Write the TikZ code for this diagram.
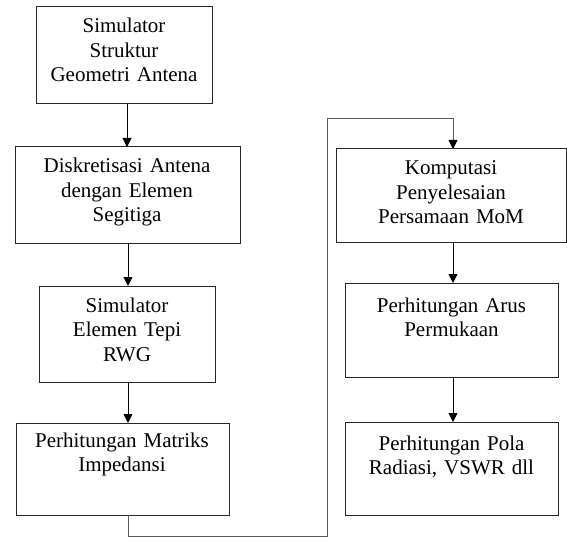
\documentclass[tikz,border=0pt]{standalone}
\usepackage{fontspec}
\setmainfont{Liberation Serif}
\usetikzlibrary{arrows.meta}
\begin{document}
\begin{tikzpicture}[x=1pt,y=-1pt,
  box/.style={draw=black!85, line width=1pt, rectangle, inner sep=0pt, outer sep=0pt},
  txt/.style={inner sep=0pt, outer sep=0pt, text width=228pt, align=center, anchor=base,
    font=\fontsize{21}{24.5}\selectfont},
  conn/.style={draw=black, line width=0.9pt},
  arr/.style={conn, -{Triangle[length=9pt,width=9pt]}},
  loopline/.style={draw=black!65, line width=0.9pt, -{Triangle[length=9pt,width=9pt,color=black]}}]
\useasboundingbox (0,0) rectangle (567,545);
\fill[white] (0,0) rectangle (567,545);
% boxes
\node[box, minimum width=176pt, minimum height=97pt] (b1) at (124,55.5) {};
\node[box, minimum width=225pt, minimum height=97pt] (b2) at (127.5,195.5) {};
\node[box, minimum width=176pt, minimum height=96pt] (b3) at (127,334) {};
\node[box, minimum width=213pt, minimum height=92pt] (b4) at (122.5,469) {};
\node[box, minimum width=230pt, minimum height=94pt] (b5) at (451,196) {};
\node[box, minimum width=213pt, minimum height=94pt] (b6) at (451.5,330) {};
\node[box, minimum width=213pt, minimum height=93pt] (b7) at (451.5,468.5) {};
% texts
\node[txt] (t1) at (124,33) {Simulator\\Struktur\\Geometri Antena};
\node[txt] (t2) at (127,173) {Diskretisasi Antena\\dengan Elemen\\Segitiga};
\node[txt] (t3) at (127,312) {Simulator\\Elemen Tepi\\RWG};
\node[txt] (t4) at (122,447) {Perhitungan Matriks\\Impedansi};
\node[txt] (t5) at (451,175) {Komputasi\\Penyelesaian\\Persamaan MoM};
\node[txt] (t6) at (451.5,312) {Perhitungan Arus\\Permukaan};
\node[txt] (t7) at (451.5,450) {Perhitungan Pola\\Radiasi, VSWR dll};
% loop coordinates
\coordinate (c1) at (128,536);
\coordinate (c2) at (327,536);
\coordinate (c3) at (327,118);
\coordinate (c4) at (453,118);
% connectors
\draw[arr] (b1.south -| 127,0) -- (b2.north -| 127,0);
\draw[arr] (b2.south -| 128,0) -- (b3.north -| 128,0);
\draw[arr] (b3.south -| 128,0) -- (b4.north -| 128,0);
\draw[loopline] (b4.south -| c1) -- (c1) -- (c2) -- (c3) -- (c4) -- (b5.north -| c4);
\draw[arr] (b5.south -| 453,0) -- (b6.north -| 453,0);
\draw[arr] (b6.south -| 453,0) -- (b7.north -| 453,0);
\end{tikzpicture}
\end{document}
